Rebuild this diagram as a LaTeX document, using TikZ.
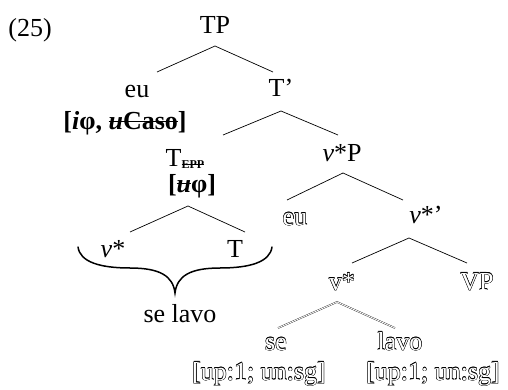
\documentclass[tikz,border=0pt]{standalone}
\usepackage{fontspec}
\setmainfont{Liberation Serif}
\newcommand\strk[2][0.3em]{\setbox0\hbox{#2}\rlap{\raisebox{#1}{\rule{\wd0}{1.3pt}}}\box0}
\newcommand\hcopy[2]{\rlap{\kern#1\raisebox{#2}{\copy2}}}
\newcommand\hol[1]{\setbox2\hbox{#1}%
  \hcopy{0.45pt}{0pt}\hcopy{-0.45pt}{0pt}\hcopy{0pt}{0.45pt}\hcopy{0pt}{-0.45pt}%
  \hcopy{0.32pt}{0.32pt}\hcopy{-0.32pt}{0.32pt}\hcopy{0.32pt}{-0.32pt}\hcopy{-0.32pt}{-0.32pt}%
  \textcolor{white}{#1}}
\newcommand\subepp{\raisebox{-1.5pt}{\fontsize{12}{14}\selectfont\bfseries\strk[0.3em]{EPP}}}
\begin{document}
\begin{tikzpicture}[x=1pt,y=-1pt,
  lab/.style={font=\fontsize{26}{30}\selectfont, inner sep=0pt, anchor=base},
  br/.style={line width=0.7pt, black},
  dbr/.style={draw=black, double=white, double distance=0.9pt, line width=0.3pt},
  brace/.style={line width=1.5pt, line cap=round}]
\useasboundingbox (0,0) rectangle (508,390);
% labels
\node[lab] (ex) at (30,37) {(25)};
\node[lab] (TP) at (215,34) {TP};
\node[lab] (eu) at (137,98) {eu};
\node[lab] (feat) at (125,130) {\textbf{[\textit{i}φ, \strk{\textit{u}Caso}]}};
\node[lab] (Tbar) at (281,97) {T’};
\node[lab] (Tepp) at (185,167) {T\subepp};
\node[lab] (ufeat) at (192,192) {\textbf{[\strk{\textit{u}}φ]}};
\node[lab] (vstar) at (113,257) {\textit{v}*};
\node[lab] (T) at (235,257) {T};
\node[lab] (selavo) at (180,322) {se lavo};
\node[lab] (vP) at (342,162) {\textit{v}*P};
\node[lab] (eu2) at (295,225) {\hol{eu}};
\node[lab] (vbar) at (426,223) {\textit{v}*’};
\node[lab] (vstar2) at (342,290) {\hol{v*}};
\node[lab] (VP) at (477,290) {\hol{VP}};
\node[lab] (se) at (276,350) {\hol{se}};
\node[lab] (lavo) at (400,350) {\hol{lavo}};
\node[lab] (fse) at (259,380) {\hol{[up:1; un:sg]}};
\node[lab] (flavo) at (433,380) {\hol{[up:1; un:sg]}};
% branch points
\coordinate (aTP) at (215,46);
\coordinate (lTP) at (157,72);
\coordinate (rTP) at (273,72);
\coordinate (aTb) at (281,111);
\coordinate (lTb) at (223,135);
\coordinate (rTb) at (338,135);
\coordinate (aTe) at (188,206);
\coordinate (lTe) at (130,232);
\coordinate (rTe) at (245,232);
\coordinate (avP) at (343,173);
\coordinate (lvP) at (287,200);
\coordinate (rvP) at (403,200);
\coordinate (avb) at (409,238);
\coordinate (lvb) at (352,263);
\coordinate (rvb) at (467,263);
\coordinate (avs) at (337,302);
\coordinate (lvs) at (278,328);
\coordinate (rvs) at (395,328);
\draw[br] (lTP) -- (aTP) -- (rTP);
\draw[br] (lTb) -- (aTb) -- (rTb);
\draw[br] (lTe) -- (aTe) -- (rTe);
\draw[br] (lvP) -- (avP) -- (rvP);
\draw[br] (lvb) -- (avb) -- (rvb);
\draw[dbr] (lvs) -- (avs) -- (rvs);
% brace
\coordinate (bl) at (78,247);
\coordinate (bt) at (175,293);
\coordinate (brr) at (272,247);
\draw[brace] (bl) .. controls (80,262) and (100,268) .. (130,268)
  .. controls (160,268) and (173,276) .. (bt)
  .. controls (177,276) and (190,268) .. (220,268)
  .. controls (250,268) and (270,262) .. (brr);
\end{tikzpicture}
\end{document}
